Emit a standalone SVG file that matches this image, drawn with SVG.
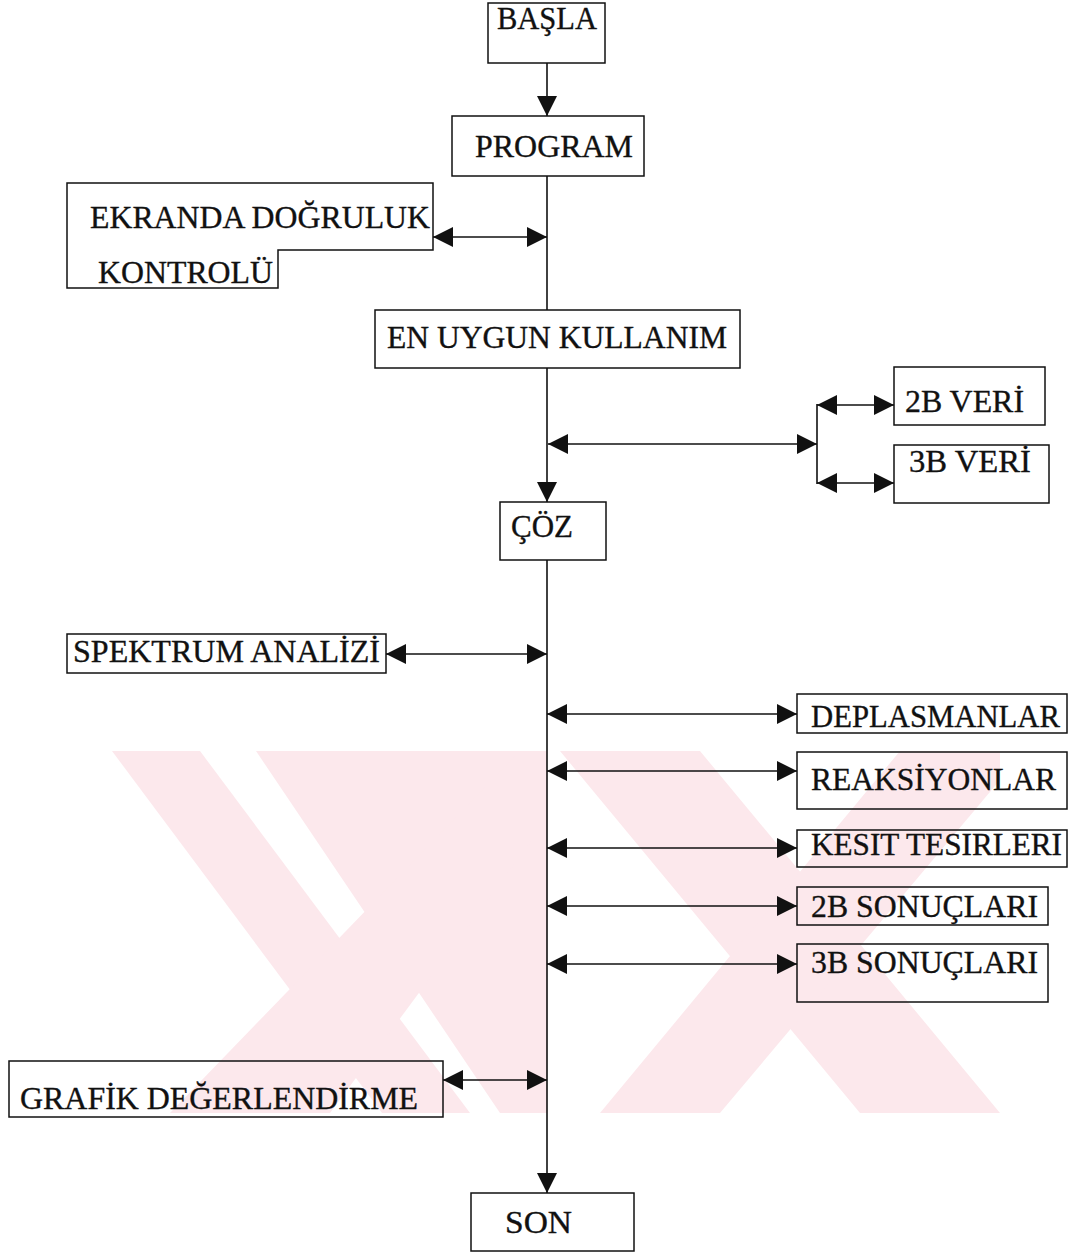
<svg xmlns="http://www.w3.org/2000/svg" width="1069" height="1254" viewBox="0 0 1069 1254">
<defs>
<style>
.box{fill:none;stroke:#111;stroke-width:1.5}
.t{font-family:"Liberation Serif","Times New Roman",serif;font-size:32px;fill:#111;stroke:#111;stroke-width:0.35}
.ln{stroke:#111;stroke-width:1.6;fill:none}
.wm{fill:#fce8ec;stroke:none}
</style>
<marker id="ah" viewBox="0 0 20 20" refX="20" refY="10" markerWidth="20" markerHeight="20" markerUnits="userSpaceOnUse" orient="auto-start-reverse">
<path d="M0,0 L20,10 L0,20 Z" fill="#111"/>
</marker>
<clipPath id="wmclip"><rect x="100" y="751" width="910" height="362"/></clipPath>
</defs>
<rect width="1069" height="1254" fill="#fff"/>
<g id="watermark" clip-path="url(#wmclip)">
<polygon class="wm" points="112,751 200,751 470,1113 382,1113"/>
<polygon class="wm" points="256,751 547,751 547,1113 500,1113"/>
<polygon class="wm" points="170,1113 330,1113 547,820 547,751 520,751"/>
<polygon class="wm" points="560,751 700,751 1000,1113 860,1113"/>
<polygon class="wm" points="600,1113 720,1113 1000,780 1000,751 900,751"/>
</g>
<g id="connectors">
<line class="ln" x1="547" y1="63" x2="547" y2="116" marker-end="url(#ah)"/>
<line class="ln" x1="547" y1="176" x2="547" y2="310"/>
<line class="ln" x1="433" y1="237" x2="547" y2="237" marker-start="url(#ah)" marker-end="url(#ah)"/>
<line class="ln" x1="547" y1="368" x2="547" y2="502" marker-end="url(#ah)"/>
<line class="ln" x1="548" y1="444" x2="817" y2="444" marker-start="url(#ah)" marker-end="url(#ah)"/>
<line class="ln" x1="817" y1="404" x2="817" y2="484"/>
<line class="ln" x1="817" y1="405" x2="894" y2="405" marker-start="url(#ah)" marker-end="url(#ah)"/>
<line class="ln" x1="817" y1="483" x2="894" y2="483" marker-start="url(#ah)" marker-end="url(#ah)"/>
<line class="ln" x1="547" y1="560" x2="547" y2="1193" marker-end="url(#ah)"/>
<line class="ln" x1="386" y1="654" x2="547" y2="654" marker-start="url(#ah)" marker-end="url(#ah)"/>
<line class="ln" x1="547" y1="714" x2="797" y2="714" marker-start="url(#ah)" marker-end="url(#ah)"/>
<line class="ln" x1="547" y1="771" x2="797" y2="771" marker-start="url(#ah)" marker-end="url(#ah)"/>
<line class="ln" x1="547" y1="848" x2="797" y2="848" marker-start="url(#ah)" marker-end="url(#ah)"/>
<line class="ln" x1="547" y1="906" x2="797" y2="906" marker-start="url(#ah)" marker-end="url(#ah)"/>
<line class="ln" x1="547" y1="964" x2="797" y2="964" marker-start="url(#ah)" marker-end="url(#ah)"/>
<line class="ln" x1="443" y1="1080" x2="547" y2="1080" marker-start="url(#ah)" marker-end="url(#ah)"/>
</g>
<g id="basla"><rect class="box" x="488" y="3" width="117" height="60"/><text class="t" x="497" y="29" textLength="100" lengthAdjust="spacingAndGlyphs">BAŞLA</text></g>
<g id="program"><rect class="box" x="452" y="116" width="192" height="60"/><text class="t" x="475" y="157" textLength="158" lengthAdjust="spacingAndGlyphs">PROGRAM</text></g>
<g id="ekranda"><polygon class="box" points="67,183 433,183 433,250 278,250 278,288 67,288"/><text class="t" x="90" y="228" textLength="340" lengthAdjust="spacingAndGlyphs">EKRANDA DOĞRULUK</text><text class="t" x="98" y="283" textLength="175" lengthAdjust="spacingAndGlyphs">KONTROLÜ</text></g>
<g id="enuygun"><rect class="box" x="375" y="310" width="365" height="58"/><text class="t" x="387" y="348" textLength="340" lengthAdjust="spacingAndGlyphs">EN UYGUN KULLANIM</text></g>
<g id="veri2b"><rect class="box" x="894" y="367" width="151" height="58"/><text class="t" x="905" y="412" textLength="119" lengthAdjust="spacingAndGlyphs">2B VERİ</text></g>
<g id="veri3b"><rect class="box" x="894" y="445" width="155" height="58"/><text class="t" x="909" y="472" textLength="122" lengthAdjust="spacingAndGlyphs">3B VERİ</text></g>
<g id="coz"><rect class="box" x="500" y="502" width="106" height="58"/><text class="t" x="511" y="537" textLength="62" lengthAdjust="spacingAndGlyphs">ÇÖZ</text></g>
<g id="spektrum"><rect class="box" x="67" y="634" width="319" height="39"/><text class="t" x="73" y="662" textLength="307" lengthAdjust="spacingAndGlyphs">SPEKTRUM ANALİZİ</text></g>
<g id="deplasman"><rect class="box" x="797" y="694" width="270" height="39"/><text class="t" x="811" y="727" textLength="249" lengthAdjust="spacingAndGlyphs">DEPLASMANLAR</text></g>
<g id="reaksiyon"><rect class="box" x="797" y="752" width="270" height="57"/><text class="t" x="811" y="790" textLength="245" lengthAdjust="spacingAndGlyphs">REAKSİYONLAR</text></g>
<g id="kesit"><rect class="box" x="797" y="830" width="270" height="37"/><text class="t" x="811" y="855" textLength="251" lengthAdjust="spacingAndGlyphs">KESIT TESIRLERI</text></g>
<g id="sonuc2b"><rect class="box" x="797" y="887" width="251" height="38"/><text class="t" x="811" y="917" textLength="227" lengthAdjust="spacingAndGlyphs">2B SONUÇLARI</text></g>
<g id="sonuc3b"><rect class="box" x="797" y="944" width="251" height="58"/><text class="t" x="811" y="973" textLength="227" lengthAdjust="spacingAndGlyphs">3B SONUÇLARI</text></g>
<g id="grafik"><rect class="box" x="9" y="1061" width="434" height="56"/><text class="t" x="20" y="1109" textLength="398" lengthAdjust="spacingAndGlyphs">GRAFİK DEĞERLENDİRME</text></g>
<g id="son"><rect class="box" x="471" y="1193" width="163" height="58"/><text class="t" x="505" y="1233" textLength="67" lengthAdjust="spacingAndGlyphs">SON</text></g>
</svg>
